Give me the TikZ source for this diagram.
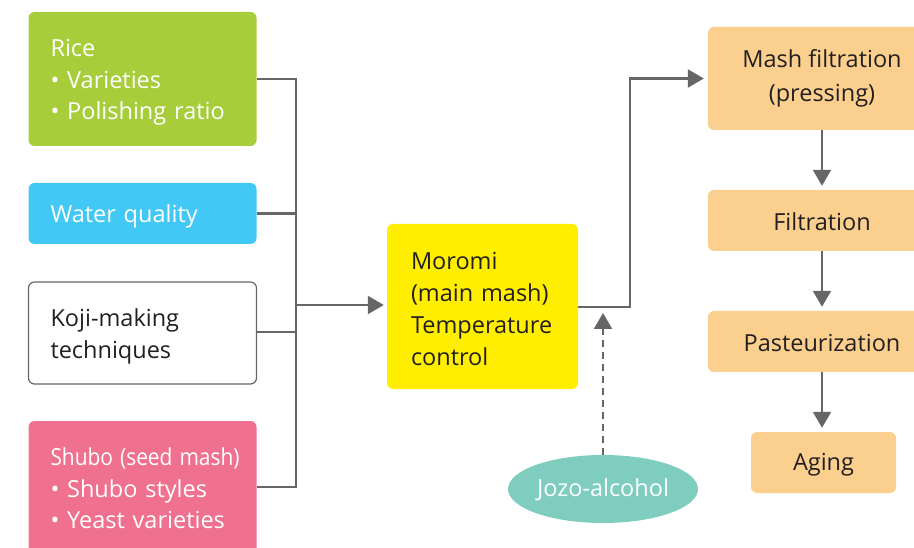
\documentclass[tikz,border=0pt]{standalone}
\usepackage{fontspec}
\setmainfont{Open Sans}
\usetikzlibrary{shapes.geometric,arrows.meta}
\definecolor{cgreen}{HTML}{A8CD3A}
\definecolor{cblue}{HTML}{41C8F4}
\definecolor{cpink}{HTML}{F0708F}
\definecolor{cyellow}{HTML}{FFEE00}
\definecolor{corange}{HTML}{FBD08F}
\definecolor{cteal}{HTML}{7ECDBF}
\definecolor{cline}{HTML}{666666}
\definecolor{ctext}{HTML}{231F20}
\newcommand\mytopstrut[1]{\rule{0pt}{#1}}
\begin{document}
\begin{tikzpicture}[x=1pt,y=-1pt,
  box/.style={rounded corners=6pt, inner ysep=0pt, font=\fontsize{23.5}{31.5}\selectfont},
  leftbox/.style={box, inner xsep=22pt, text width=184pt, align=left,
    execute at begin node=\mytopstrut{28pt}, execute at end node=\strut},
  orangebox/.style={box, fill=corange, text=ctext, align=center, inner xsep=0pt,
    execute at begin node=\mytopstrut{21pt}},
  conn/.style={draw=cline, line width=2.2pt},
  arr/.style={conn, -{Triangle[width=18pt,length=16pt]}},
]
\useasboundingbox (0,0) rectangle (914,548);
\clip (0,0) rectangle (914,548);

% left inputs
\node[leftbox, fill=cgreen, text=white, minimum height=134pt] (rice) at (142.5,79)
  {Rice\\• Varieties\\• Polishing ratio};
\node[leftbox, fill=cblue, text=white, minimum height=61pt] (water) at (142.5,213.5)
  {Water quality};
\node[leftbox, fill=white, draw=cline, line width=1.2pt, text=ctext, minimum height=102pt] (koji) at (142.5,333)
  {Koji-making\\techniques};
\node[leftbox, fill=cpink, text=white, minimum height=134pt] (shubo) at (142.5,488)
  {\scalebox{0.89}[1]{Shubo (seed mash)}\\• Shubo styles\\• Yeast varieties};

% moromi
\node[box, fill=cyellow, text=ctext, inner xsep=24pt, text width=143pt, align=left, minimum height=165pt,
  font=\fontsize{23.5}{32}\selectfont, execute at begin node=\mytopstrut{32pt},
  execute at end node=\strut] (moromi) at (482.5,306.5)
  {Moromi\\(main mash)\\Temperature\\control};

% jozo alcohol
\node[ellipse, fill=cteal, text=white, inner sep=0pt, minimum width=190pt, minimum height=68pt,
  font=\fontsize{23.5}{31.5}\selectfont, execute at begin node=\mytopstrut{25pt},
  execute at end node=\strut] (jozo) at (603,489) {Jozo-alcohol};

% right process
\node[orangebox, minimum width=228pt, minimum height=103pt, font=\fontsize{23.5}{34}\selectfont,
  execute at begin node=\mytopstrut{45pt}] (mash) at (822,78.5)
  {Mash filtration\\(pressing)};
\node[orangebox, minimum width=228pt, minimum height=61pt] (filt) at (822,220.5)
  {Filtration};
\node[orangebox, minimum width=228pt, minimum height=61pt] (past) at (822,341.5)
  {Pasteurization};
\node[orangebox, minimum width=145pt, minimum height=61pt] (aging) at (823.5,462.5)
  {Aging};

% bus
\coordinate (bt) at (296,79);
\coordinate (bb) at (296,487);
\coordinate (bm) at (296,305);
\draw[conn] (rice.east |- bt) -- (bt) -- (bb) -- (shubo.east |- bb);
\draw[conn] (water.east) -- (water.east -| bt);
\draw[conn] (koji.east |- 0,332) -- (bt |- 0,332);
\draw[arr, shorten >=3pt] (bm) -- (bm -| moromi.west);

% moromi out
\coordinate (turn) at (630,307);
\draw[arr, shorten >=4pt] (moromi.east |- turn) -- (turn) |- (mash.west);

% dashed jozo
\coordinate (jt) at (603,313);
\draw[arr, dashed, dash pattern=on 7pt off 5pt] (jozo.north) -- (jt);

% vertical chain
\draw[arr, shorten >=4pt] (mash.south) -- (filt.north);
\draw[arr, shorten >=4pt] (filt.south) -- (past.north);
\draw[arr, shorten >=4pt] (past.south) -- (past.south |- aging.north);
\end{tikzpicture}
\end{document}
